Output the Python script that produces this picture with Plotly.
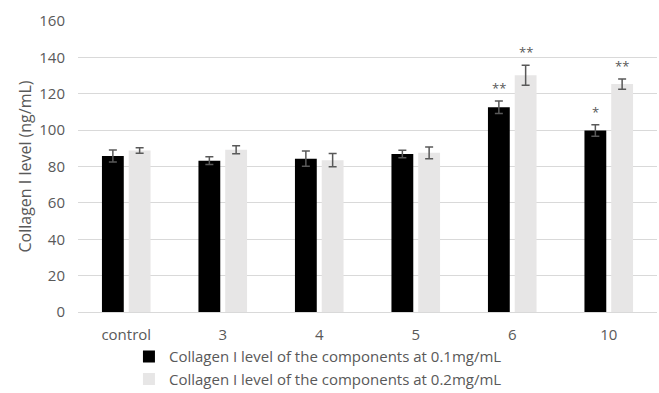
import plotly.graph_objects as go

categories = ["control", "3", "4", "5", "6", "10"]
series1_name = "Collagen I level of the components at 0.1mg/mL"
series2_name = "Collagen I level of the components at 0.2mg/mL"
series1_values = [85.8, 83.2, 84.3, 86.9, 112.6, 99.8]
series1_errors = [3.3, 2.1, 4.2, 2.1, 3.4, 3.2]
series2_values = [88.8, 89.2, 83.5, 87.5, 130.2, 125.3]
series2_errors = [1.5, 2.2, 3.6, 3.2, 5.5, 2.8]
series1_sig = ["", "", "", "", "**", "*"]
series2_sig = ["", "", "", "", "**", "**"]

FONT = "Open Sans"
GREY_TXT = "#595959"

fig = go.Figure()
fig.add_trace(go.Bar(
    x=categories, y=series1_values, name=series1_name,
    marker=dict(color="#000000", line=dict(width=0)),
    error_y=dict(type="data", array=series1_errors, color=GREY_TXT, thickness=1.5, width=4),
))
fig.add_trace(go.Bar(
    x=categories, y=series2_values, name=series2_name,
    marker=dict(color="#E7E6E6", line=dict(width=0)),
    error_y=dict(type="data", array=series2_errors, color=GREY_TXT, thickness=1.5, width=4),
))

annotations = []
for sigs, vals, errs, shift in [(series1_sig, series1_values, series1_errors, -13.5),
                                (series2_sig, series2_values, series2_errors, 13.5)]:
    for i, (s, v, e) in enumerate(zip(sigs, vals, errs)):
        if s:
            annotations.append(dict(
                x=i, y=v + e, text=s, showarrow=False, xshift=shift, yshift=2,
                xref="x", yref="y",
                yanchor="bottom", xanchor="center",
                font=dict(family=FONT, size=13, color=GREY_TXT),
            ))

fig.update_layout(
    width=659, height=393,
    margin=dict(l=78, r=2, t=21, b=81, autoexpand=False),
    paper_bgcolor="white", plot_bgcolor="white",
    barmode="group", bargap=0.445, bargroupgap=0.185,
    font=dict(family=FONT, size=15, color=GREY_TXT),
    showlegend=True,
    legend=dict(orientation="v", x=0.088, xanchor="left", y=-0.097, yanchor="top",
                bgcolor="rgba(0,0,0,0)",
                font=dict(family=FONT, size=15, color=GREY_TXT), itemwidth=30,
                traceorder="normal"),
    annotations=annotations,
    xaxis=dict(type="category", range=[-0.5, 5.5], showgrid=False, showline=True,
               linecolor="#D9D9D9", linewidth=1,
               ticks="", ticklabelstandoff=9, tickfont=dict(size=15, color=GREY_TXT)),
    yaxis=dict(range=[0, 160], dtick=20, showgrid=True, gridcolor="#D9D9D9", gridwidth=1,
               zeroline=False, showline=False, ticks="", ticklabelstandoff=12,
               tickfont=dict(size=15, color=GREY_TXT),
               title=dict(text="Collagen I level (ng/mL)", font=dict(size=16, color=GREY_TXT),
                          standoff=3)),
)

fig.write_html("out.html")
